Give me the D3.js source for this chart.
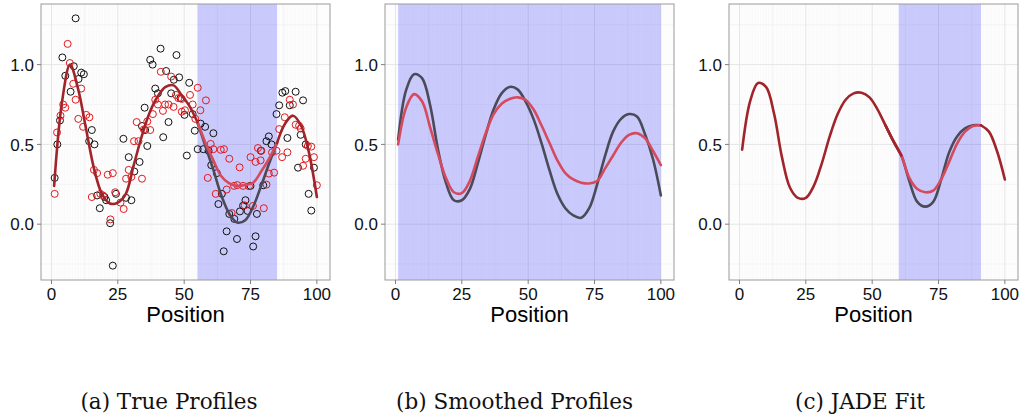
<!DOCTYPE html>
<html>
<head>
<meta charset="utf-8">
<script src="https://cdn.jsdelivr.net/npm/d3@7"></script>
<style>
  body { margin: 0; background: #fff; }
  svg { display: block; }
</style>
</head>
<body>
<svg id="chart" width="1023" height="419"></svg>
<script>
var positions = [1,4,7,10,13,16,19,22,25,28,31,34,37,40,43,46,49,52,55,58,61,64,67,70,73,76,79,82,85,88,91,94,97,100];

// (a) true profiles: fitted curve outside the region, two profiles inside it
var fitA  = [0.24,0.77,1.00,0.85,0.60,0.35,0.19,0.13,0.135,0.19,0.37,0.55,0.70,0.80,0.86,0.87,0.81,0.74,0.64,
             null,null,null,null,null,null,null,null,null,0.51,0.63,0.68,0.62,0.45,0.17];
var grayA = [null,null,null,null,null,null,null,null,null,null,null,null,null,null,null,null,null,null,
             0.64,0.49,0.34,0.18,0.066,0.01,0.025,0.11,0.24,0.38,0.51,null,null,null,null,null];
var redA  = [null,null,null,null,null,null,null,null,null,null,null,null,null,null,null,null,null,null,
             0.64,0.51,0.40,0.30,0.255,0.24,0.245,0.26,0.33,0.41,0.51,null,null,null,null,null];

// (b) smoothed profiles
var grayB = [0.53,0.84,0.94,0.915,0.75,0.47,0.26,0.15,0.15,0.22,0.38,0.56,0.72,0.82,0.86,0.845,0.77,0.66,0.51,
             0.34,0.19,0.10,0.055,0.04,0.10,0.25,0.43,0.58,0.66,0.69,0.675,0.565,0.41,0.18];
var redB  = [0.50,0.73,0.815,0.77,0.61,0.44,0.29,0.20,0.195,0.27,0.42,0.57,0.69,0.755,0.785,0.795,0.78,0.72,0.62,
             0.51,0.40,0.32,0.28,0.26,0.255,0.27,0.35,0.43,0.51,0.56,0.57,0.54,0.46,0.37];

// (c) JADE fit
var fitC  = [0.467,0.77,0.885,0.86,0.695,0.42,0.23,0.165,0.165,0.24,0.38,0.55,0.69,0.78,0.82,0.824,0.795,0.72,0.62,
             0.52,0.43,null,null,null,null,null,null,null,null,null,0.62,0.58,0.46,0.28];
var grayC = [null,null,null,null,null,null,null,null,null,null,null,null,null,null,null,null,null,null,0.62,
             0.52,0.43,0.27,0.14,0.11,0.14,0.28,0.45,0.55,0.60,0.62,0.62,null,null,null];
var redC  = [null,null,null,null,null,null,null,null,null,null,null,null,null,null,null,null,null,null,0.62,
             0.52,0.43,0.29,0.22,0.20,0.21,0.28,0.39,0.505,0.58,0.615,0.62,null,null,null];

// observed points for panel (a)
var blackPts = [[1.2,0.29],[2.2,0.50],[3.2,0.65],[4.1,1.045],[5.2,0.93],[7.2,0.83],[8.4,0.99],[9.1,1.29],[10.2,0.91],
  [11.2,0.95],[12.2,0.94],[14.2,0.52],[15.2,0.59],[16.2,0.50],[17.2,0.18],[18.2,0.10],[20,0.17],[20.6,0.15],
  [22.1,0.006],[23.1,-0.26],[24.3,0.19],[27.1,0.535],[28.1,0.165],[29.1,0.42],[30.1,0.15],[31.2,0.33],[33.2,0.39],
  [34.1,0.615],[35.1,0.73],[35.3,0.59],[36.1,0.49],[37.2,1.03],[38.1,1.00],[39.1,0.85],[40.1,0.82],[41.1,1.10],
  [42.1,0.545],[43.2,0.96],[44.1,0.64],[45.1,0.82],[46.1,0.905],[47.1,1.06],[48.1,0.92],[48.6,0.79],[50.1,0.685],
  [51,0.43],[51.9,0.886],[53.2,0.69],[54,0.586],[55.1,0.47],[56.2,0.63],[57.2,0.47],[57.9,0.61],[59.2,0.46],
  [60.2,0.37],[61,0.57],[62.3,0.32],[62.9,0.126],[64.2,0.19],[64.9,-0.17],[66,-0.045],[67,0.064],[68.9,0.033],
  [69.9,-0.093],[71,0.08],[72.2,0.116],[73.1,0.15],[73.9,0.083],[75,0.24],[76,-0.14],[76.9,-0.076],[77.4,0.064],
  [78.9,0.46],[79.8,0.244],[81,0.52],[81.9,0.55],[82.9,0.50],[84.8,0.69],[85.8,0.745],[87,0.824],[88.1,0.834],
  [88.9,0.54],[89.8,0.745],[92,0.83],[92.9,0.354],[93.9,0.56],[94.8,0.776],[95.8,0.50],[96.9,0.19],[97.9,0.085],
  [98.9,0.354]];
var redPts = [[1.2,0.19],[2.1,0.575],[3.4,0.68],[4.4,0.75],[5.2,0.73],[6.1,1.13],[6.9,1.01],[8.2,0.88],[9.1,0.78],
  [10.1,0.66],[11.2,0.85],[11.9,0.61],[13.1,0.685],[14.3,0.67],[15.2,0.17],[16,0.34],[17.2,0.32],[18.4,0.19],
  [19.4,0.18],[21.2,0.31],[22.2,0.03],[23.1,0.32],[24,0.20],[26,0.135],[27.2,0.095],[28.1,0.285],[29.1,0.34],
  [30.1,0.296],[31.1,0.52],[32.1,0.64],[32.8,0.52],[34.1,0.285],[34.8,0.594],[36.1,0.644],[37.2,0.59],[38.2,0.69],
  [39.1,0.78],[40.1,0.75],[41.2,0.955],[42,0.71],[42.8,0.75],[44.1,0.75],[45.1,0.925],[46,0.735],[46.9,0.81],
  [47.8,0.79],[49.1,0.785],[49.1,0.705],[50.3,0.714],[52.2,0.81],[53.2,0.75],[54.2,0.66],[55.1,0.855],[56.1,0.714],
  [58.2,0.776],[58.9,0.29],[60,0.503],[61,0.47],[61.9,0.19],[63.8,0.466],[65,0.47],[66,0.217],[67,0.41],[67.9,0.07],
  [68.8,0.24],[70,0.245],[70.9,0.356],[72.2,0.24],[72.8,0.118],[74.4,0.238],[75,0.42],[75.9,0.114],[76.9,0.39],
  [77.8,0.477],[78.8,0.40],[79.1,0.46],[80,0.1],[81,0.248],[81.9,0.317],[83.1,0.45],[83.9,0.323],[84.8,0.46],
  [85.8,0.596],[86.9,0.42],[87.9,0.67],[88.9,0.45],[89.8,0.78],[91,0.75],[92,0.623],[93.3,0.617],[93.9,0.60],
  [94.8,0.366],[95.8,0.41],[96.6,0.49],[97.9,0.486],[98.9,0.42],[100,0.244]];

var regions  = [[55,85],[1,100],[60,91]];
var captions = ["(a) True Profiles", "(b) Smoothed Profiles", "(c) JADE Fit"];
var xTicks = [0,25,50,75,100];
var yTicks = [0,0.5,1.0];

var svg = d3.select("#chart");
var plotTop = 4, plotBottom = 280;
var lefts = [41, 385, 729], plotW = 289;

var y = d3.scaleLinear().domain([-0.35, 1.38]).range([plotBottom, plotTop]);

var panels = [
  {lines: [{v: grayA, c: "#4a4a58"}, {v: redA, c: "#d64a5e"}, {v: fitA, c: "#a2242b"}], points: true},
  {lines: [{v: grayB, c: "#4a4a58"}, {v: redB, c: "#d64a5e"}], points: false},
  {lines: [{v: grayC, c: "#4a4a58"}, {v: redC, c: "#d64a5e"}, {v: fitC, c: "#a2242b"}], points: false}
];

panels.forEach(function(p, i){
  var left = lefts[i];
  var x = d3.scaleLinear().domain([-3.95, 104.95]).range([left, left + plotW]);
  var g = svg.append("g");

  g.append("rect").attr("x", left).attr("y", plotTop).attr("width", plotW).attr("height", plotBottom - plotTop)
    .attr("fill", "#fdfdfd");

  // faint stripes at every position
  g.selectAll(".stripe").data(d3.range(1, 101)).enter().append("line")
    .attr("x1", function(d){ return x(d); }).attr("x2", function(d){ return x(d); })
    .attr("y1", plotTop).attr("y2", plotBottom)
    .attr("stroke", "#000").attr("stroke-opacity", 0.025).attr("stroke-width", 0.7);

  // minor grid
  g.selectAll(".mx").data([12.5,37.5,62.5,87.5]).enter().append("line")
    .attr("x1", function(d){ return x(d); }).attr("x2", function(d){ return x(d); })
    .attr("y1", plotTop).attr("y2", plotBottom).attr("stroke", "#f2f2f2").attr("stroke-width", 0.8);
  g.selectAll(".my").data([-0.25,0.25,0.75,1.25]).enter().append("line")
    .attr("y1", function(d){ return y(d); }).attr("y2", function(d){ return y(d); })
    .attr("x1", left).attr("x2", left + plotW).attr("stroke", "#f2f2f2").attr("stroke-width", 0.8);
  // major grid
  g.selectAll(".gx").data(xTicks).enter().append("line")
    .attr("x1", function(d){ return x(d); }).attr("x2", function(d){ return x(d); })
    .attr("y1", plotTop).attr("y2", plotBottom).attr("stroke", "#e6e6e6").attr("stroke-width", 1);
  g.selectAll(".gy").data(yTicks).enter().append("line")
    .attr("y1", function(d){ return y(d); }).attr("y2", function(d){ return y(d); })
    .attr("x1", left).attr("x2", left + plotW).attr("stroke", "#e6e6e6").attr("stroke-width", 1);

  // highlighted region
  g.append("rect")
    .attr("x", x(regions[i][0])).attr("width", x(regions[i][1]) - x(regions[i][0]))
    .attr("y", plotTop).attr("height", plotBottom - plotTop)
    .attr("fill", "#0000ff").attr("fill-opacity", 0.2);

  if (p.points) {
    g.selectAll(".pb").data(blackPts).enter().append("circle")
      .attr("cx", function(d){ return x(d[0]); }).attr("cy", function(d){ return y(d[1]); })
      .attr("r", 3.5).attr("fill", "none").attr("stroke", "#111").attr("stroke-width", 1);
    g.selectAll(".pr").data(redPts).enter().append("circle")
      .attr("cx", function(d){ return x(d[0]); }).attr("cy", function(d){ return y(d[1]); })
      .attr("r", 3.5).attr("fill", "none").attr("stroke", "#e3191c").attr("stroke-width", 1);
  }

  var line = d3.line()
    .defined(function(d){ return d[1] != null; })
    .x(function(d){ return x(d[0]); })
    .y(function(d){ return y(d[1]); })
    .curve(d3.curveCatmullRom.alpha(0.5));

  p.lines.forEach(function(l){
    g.append("path")
      .datum(positions.map(function(pos, k){ return [pos, l.v[k]]; }))
      .attr("d", line).attr("fill", "none")
      .attr("stroke", l.c).attr("stroke-width", 2.6).attr("stroke-linecap", "round");
  });

  // border
  g.append("rect").attr("x", left).attr("y", plotTop).attr("width", plotW).attr("height", plotBottom - plotTop)
    .attr("fill", "none").attr("stroke", "#9a9a9a").attr("stroke-width", 1);

  // ticks and labels
  g.selectAll(".tx").data(xTicks).enter().append("line")
    .attr("x1", function(d){ return x(d); }).attr("x2", function(d){ return x(d); })
    .attr("y1", plotBottom).attr("y2", plotBottom + 4).attr("stroke", "#7f7f7f");
  g.selectAll(".ty").data(yTicks).enter().append("line")
    .attr("y1", function(d){ return y(d); }).attr("y2", function(d){ return y(d); })
    .attr("x1", left - 4).attr("x2", left).attr("stroke", "#7f7f7f");

  g.selectAll(".lx").data(xTicks).enter().append("text")
    .attr("x", function(d){ return x(d); }).attr("y", plotBottom + 20)
    .attr("text-anchor", "middle")
    .style("font", "17px 'Liberation Sans', Arial, sans-serif").attr("fill", "#111")
    .text(function(d){ return d; });
  g.selectAll(".ly").data(yTicks).enter().append("text")
    .attr("x", left - 7).attr("y", function(d){ return y(d); }).attr("dy", "0.36em")
    .attr("text-anchor", "end")
    .style("font", "17px 'Liberation Sans', Arial, sans-serif").attr("fill", "#111")
    .text(function(d){ return d3.format(".1f")(d); });

  g.append("text").attr("x", left + plotW / 2).attr("y", 322).attr("text-anchor", "middle")
    .style("font", "22px 'Liberation Sans', Arial, sans-serif").attr("fill", "#000")
    .text("Position");

  g.append("text").attr("x", [169, 514.5, 860][i]).attr("y", 409).attr("text-anchor", "middle")
    .style("font", "21.5px 'DejaVu Serif', serif").attr("fill", "#111")
    .text(captions[i]);
});
</script>
</body>
</html>
